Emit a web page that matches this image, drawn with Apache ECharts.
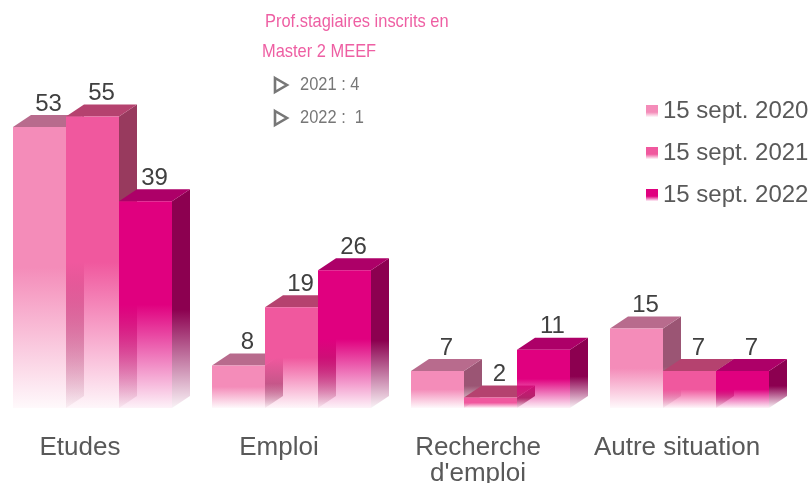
<!DOCTYPE html>
<html>
<head>
<meta charset="utf-8">
<script src="https://cdn.jsdelivr.net/npm/echarts@6/dist/echarts.min.js"></script>
<style>
  html, body { margin: 0; padding: 0; background: #fff; }
  #chart { width: 811px; height: 483px; }
</style>
</head>
<body>
<div id="chart"></div>
<script>
const categories = ['Etudes', 'Emploi', "Recherche\nd'emploi", 'Autre situation']
const seriesNames = ['15 sept. 2020', '15 sept. 2021', '15 sept. 2022']
const values2020 = [53, 8, 7, 15]
const values2021 = [55, 19, 2, 7]
const values2022 = [39, 26, 11, 7]
const allValues = [values2020, values2021, values2022]

// front / top / side shade for each year
const faceColors = [
  ['#f48cb9', '#b86b8d', '#9b5574'],
  ['#f0589e', '#b5426f', '#983a5e'],
  ['#e0007f', '#ad0068', '#8c0050'],
]

const noteTitle = ['Prof.stagiaires inscrits en', 'Master 2 MEEF']
const noteLines = ['2021 : 4', '2022 :  1']

const BAR_W = 53, DX = 18, DY = -12, SHIFT = -7
const SANS = '"Liberation Sans", Arial, sans-serif'

const rgba = (hex, a) => {
  const n = parseInt(hex.slice(1), 16)
  return `rgba(${n >> 16},${(n >> 8) & 255},${n & 255},${a})`
}
const fade = (hex, solidTo) => new echarts.graphic.LinearGradient(0, 0, 0, 1, [
  { offset: 0, color: hex },
  { offset: solidTo, color: hex },
  { offset: 1, color: rgba(hex, 0.05) },
])

function bar3d(s) {
  return (params, api) => {
    const cat = api.value(0), val = api.value(1)
    const top = api.coord([cat, val]), base = api.coord([cat, 0])
    const x0 = top[0] + SHIFT - 1.5 * BAR_W + s * BAR_W, x1 = x0 + BAR_W
    const yT = top[1], yB = base[1]
    const [front, topC, side] = faceColors[s]
    return {
      type: 'group',
      children: [
        { type: 'polygon', shape: { points: [[x1, yT], [x1 + DX, yT + DY], [x1 + DX, yB + DY], [x1, yB]] },
          style: { fill: fade(side, 0.55) } },
        { type: 'polygon', shape: { points: [[x0, yT], [x0 + DX, yT + DY], [x1 + DX, yT + DY], [x1, yT]] },
          style: { fill: topC } },
        { type: 'rect', shape: { x: x0, y: yT, width: BAR_W, height: yB - yT },
          style: { fill: fade(front, 0.5) } },
        { type: 'text', x: (x0 + x1) / 2 + DX / 2, y: yT + DY + 1,
          style: { text: String(val), fill: '#404040', font: `24px ${SANS}`, align: 'center', verticalAlign: 'bottom' } },
      ],
    }
  }
}

const arrow = (y) => ({
  type: 'polygon', x: 275, y,
  shape: { points: [[0, 0], [12, 7], [0, 14]] },
  style: { fill: 'none', stroke: '#777', lineWidth: 2.6, lineJoin: 'miter' },
})
const note = (text, x, y, color) => ({
  type: 'text', x, y, scaleX: 0.865,
  style: { text, fill: color, font: `19px ${SANS}`, verticalAlign: 'middle' },
})

const chart = echarts.init(document.getElementById('chart'))
chart.setOption({
  animation: false,
  backgroundColor: '#fff',
  grid: { left: 0, right: 15, top: 90, bottom: 75, outerBoundsMode: 'none' },
  xAxis: {
    type: 'category', data: categories,
    axisLine: { show: false }, axisTick: { show: false },
    axisLabel: { color: '#595959', fontSize: 26, fontFamily: SANS, margin: 27, lineHeight: 26,
      padding: [0, 39, 0, 0], interval: 0 },
  },
  yAxis: { type: 'value', min: 0, max: 60, show: false, splitLine: { show: false } },
  legend: {
    orient: 'vertical', left: 646, top: 99, padding: 0, itemGap: 18,
    icon: 'rect', itemWidth: 12, itemHeight: 12,
    textStyle: { color: '#595959', fontSize: 24, fontFamily: SANS, lineHeight: 24 },
    data: seriesNames,
  },
  graphic: [
    note(noteTitle[0], 265, 22, '#ee5fa3'),
    note(noteTitle[1], 262, 52, '#ee5fa3'),
    arrow(78),
    note(noteLines[0], 300, 85, '#777'),
    arrow(111),
    note(noteLines[1], 300, 118, '#777'),
  ],
  series: allValues.map((vals, s) => ({
    name: seriesNames[s],
    type: 'custom',
    renderItem: bar3d(s),
    itemStyle: { color: fade(faceColors[s][0], 0.6) },
    encode: { x: 0, y: 1 },
    data: vals.map((v, i) => [i, v]),
  })),
})
</script>
</body>
</html>
